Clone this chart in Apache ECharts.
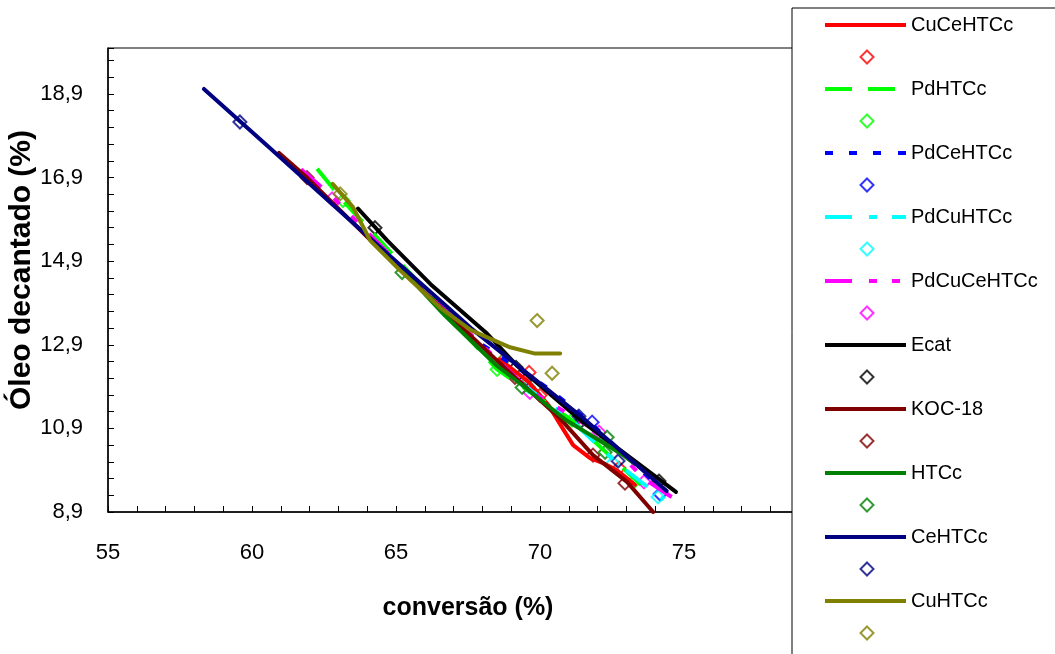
<!DOCTYPE html>
<html><head><meta charset="utf-8">
<script src="https://cdn.jsdelivr.net/npm/echarts@6/dist/echarts.min.js"></script>
<style>html,body{margin:0;padding:0;background:#fff}#chart{width:1055px;height:654px}</style>
</head><body><div id="chart"></div>
<script>
// ---------- data ----------
const seriesNames = ['CuCeHTCc','PdHTCc','PdCeHTCc','PdCuHTCc','PdCuCeHTCc','Ecat','KOC-18','HTCc','CeHTCc','CuHTCc'];
const xTickValues = [55, 60, 65, 70, 75, 80];
const yTickValues = [8.9, 10.9, 12.9, 14.9, 16.9, 18.9];

// lines (conversão %, óleo decantado %)
const lineCuCeHTCc   = [[68.6,12.55],[69.62,12.0],[70.3,11.45],[70.76,10.93],[71.15,10.5],[71.74,10.19],[72.19,10.07],[72.67,9.9],[73.0,9.72],[73.3,9.55]];
const linePdHTCc     = [[62.26,17.11],[63.16,16.35],[65.5,14.6],[68.51,12.31],[71.1,11.1],[73.5,9.55]];
const linePdCeHTCc   = [[68.0,12.9],[70.28,11.86],[70.97,11.48],[71.8,11.0],[72.95,10.26],[74.3,9.4]];
const linePdCuHTCc   = [[69.3,12.0],[71.0,11.15],[72.0,10.5],[72.7,10.05],[74.3,9.2]];
const linePdCuCeHTCc = [[61.7,17.1],[62.78,16.45],[66.0,14.2],[69.65,11.8],[72.05,10.8],[73.61,9.7],[74.7,9.2]];
const lineEcat       = [[63.68,16.16],[64.7,15.39],[66.2,14.35],[68.16,13.17],[69.2,12.4],[71.4,11.1],[74.72,9.38]];
const lineKOC18      = [[60.94,17.49],[61.91,16.9],[65.0,14.8],[69.13,12.12],[70.69,11.14],[71.84,10.26],[73.02,9.62],[73.93,8.9]];
const lineHTCc       = [[64.8,15.0],[66.7,13.6],[68.5,12.4],[69.3,11.98],[70.9,11.1],[72.8,10.3],[73.3,10.05]];
const lineCeHTCc     = [[58.33,19.02],[60.6,17.62],[64.1,15.45],[67.6,13.3],[71.4,11.2],[74.4,9.4]];
const lineCuHTCc     = [[62.8,16.75],[63.5,16.2],[64.1,15.4],[65.14,14.68],[66.53,13.79],[67.6,13.25],[68.96,12.84],[69.83,12.69],[70.7,12.69]];

// measured points
const ptsCuCeHTCc   = [[69.62,12.24],[70.0,11.69],[72.74,9.95]];
const ptsPdHTCc     = [[63.16,16.35],[68.51,12.31],[71.11,11.1],[73.26,9.62]];
const ptsPdCeHTCc   = [[68.85,12.29],[71.81,11.05],[74.17,9.33]];
const ptsPdCuHTCc   = [[69.6,11.9],[72.53,10.07],[74.1,9.26]];
const ptsPdCuCeHTCc = [[62.78,16.39],[69.65,11.76],[72.05,10.81],[73.61,9.62]];
const ptsEcat       = [[64.27,15.7],[69.17,12.36],[71.42,11.07],[74.13,9.64]];
const ptsKOC18      = [[61.91,16.9],[69.13,12.12],[71.84,10.26],[72.95,9.59]];
const ptsHTCc       = [[65.21,14.63],[69.38,11.88],[72.33,10.69],[72.26,10.33]];
const ptsCeHTCc     = [[59.58,18.23],[69.48,12.05],[71.35,11.19],[72.71,10.12]];
const ptsCuHTCc     = [[63.06,16.51],[68.72,12.53],[69.9,13.48],[70.42,12.22]];

const allLines = [lineCuCeHTCc,linePdHTCc,linePdCeHTCc,linePdCuHTCc,linePdCuCeHTCc,lineEcat,lineKOC18,lineHTCc,lineCeHTCc,lineCuHTCc];
const allPts   = [ptsCuCeHTCc,ptsPdHTCc,ptsPdCeHTCc,ptsPdCuHTCc,ptsPdCuCeHTCc,ptsEcat,ptsKOC18,ptsHTCc,ptsCeHTCc,ptsCuHTCc];

// ---------- styles ----------
const colors = ['#FF0000','#00FF00','#0000FF','#00FFFF','#FF00FF','#000000','#800000','#008000','#000080','#808000'];
const dashes = ['solid',[27,16],[8,15],[27,17,8,17],[27,17,8,17,8,17],'solid','solid','solid','solid','solid'];
// legend line icons: dash segments [start,end] across an 81px-wide icon
const legendSegs = [
  [[0,81]], [[0,27],[43,70]], [[0,8],[24,32],[48,56],[73,81]], [[0,27],[44,52],[67,81]],
  [[0,27],[44,52],[67,75]], [[0,81]], [[0,81]], [[0,81]], [[0,81]], [[0,81]]
];
function segPath(segs) {
  // zero-width guides at x=0 and x=81 keep the icon's bounding box at the full 81px
  let p = 'path://M0,0L0,4M81,0L81,4';
  segs.forEach(s => { p += 'M' + s[0] + ',0L' + s[1] + ',0L' + s[1] + ',4L' + s[0] + ',4Z'; });
  return p;
}
const FONT = '"Liberation Sans",Arial,sans-serif';

const series = [];
const legendLines = [];
const legendPts = [];
seriesNames.forEach((name, i) => {
  const solid = dashes[i] === 'solid';
  series.push({
    name: name, type: 'line', data: allLines[i], symbol: 'none', smooth: false,
    animation: false, silent: true,
    lineStyle: { color: colors[i], width: 4, type: dashes[i], cap: solid ? 'round' : 'butt', join: 'round' }
  });
  series.push({
    name: name + ' pts', type: 'scatter', data: allPts[i], symbol: 'diamond', symbolSize: 13,
    animation: false, silent: true,
    itemStyle: { color: 'rgba(0,0,0,0)', borderColor: colors[i], borderWidth: 2 }
  });
  legendLines.push({ name: name, icon: segPath(legendSegs[i]),
    itemStyle: { color: colors[i], borderWidth: 0, opacity: 1 } });
  legendPts.push({ name: name + ' pts', icon: 'diamond',
    itemStyle: { color: 'rgba(0,0,0,0)', borderColor: colors[i], borderWidth: 2 } });
});

const chart = echarts.init(document.getElementById('chart'), null, { renderer: 'canvas' });
chart.setOption({
  backgroundColor: '#fff',
  animation: false,
  grid: { left: 108, top: 48, right: 227, bottom: 142, containLabel: false, outerBoundsMode: 'none',
    show: true, borderColor: '#000', borderWidth: 1, backgroundColor: '#fff' },
  xAxis: {
    type: 'value', min: xTickValues[0], max: xTickValues[xTickValues.length - 1], interval: 5,
    axisLine: { onZero: false, lineStyle: { color: '#000', width: 1.5 } },
    axisTick: { inside: true, length: 6, lineStyle: { color: '#000', width: 1 } },
    minorTick: { show: true, splitNumber: 5, length: 6, lineStyle: { color: '#000', width: 1 } },
    splitLine: { show: false },
    axisLabel: { color: '#000', fontSize: 22, fontFamily: FONT, margin: 30 },
    name: 'conversão (%)', nameLocation: 'middle', nameGap: 84, nameMoveOverlap: false,
    nameTextStyle: { color: '#000', fontSize: 25, fontWeight: 'bold', fontFamily: FONT }
  },
  yAxis: {
    type: 'value', min: yTickValues[0], max: 20, interval: 2,
    axisLine: { onZero: false, lineStyle: { color: '#000', width: 1.5 } },
    axisTick: { inside: true, length: 6, lineStyle: { color: '#000', width: 1 } },
    minorTick: { show: true, splitNumber: 5, length: 6, lineStyle: { color: '#000', width: 1 } },
    splitLine: { show: false },
    axisLabel: { color: '#000', fontSize: 22, fontFamily: FONT, margin: 25, showMaxLabel: false,
      formatter: v => v.toFixed(1).replace('.', ',') },
    name: 'Óleo decantado (%)', nameLocation: 'middle', nameGap: 71, nameRotate: 90, nameMoveOverlap: false,
    nameTextStyle: { color: '#000', fontSize: 30, fontWeight: 'bold', fontFamily: FONT, padding: [0, 0, 0, 20] }
  },
  graphic: { elements: [
    { type: 'rect', z: 3, silent: true, shape: { x: 792, y: 8, width: 300, height: 700 },
      style: { fill: '#fff', stroke: '#000', lineWidth: 1 } }
  ] },
  legend: [{
    orient: 'vertical', left: 825, top: 13, height: 640, padding: 0, z: 10,
    itemWidth: 81, itemHeight: 4, itemGap: 40, selectedMode: false,
    data: legendLines,
    textStyle: { color: '#000', fontSize: 20, lineHeight: 24, fontFamily: FONT }
  }, {
    orient: 'vertical', left: 859.5, top: 49.5, height: 640, padding: 0, z: 10,
    itemWidth: 13, itemHeight: 13, itemGap: 49, selectedMode: false,
    data: legendPts,
    formatter: () => ' ',
    textStyle: { color: '#000', fontSize: 12, lineHeight: 13, fontFamily: FONT }
  }],
  series: series
});
</script>
</body></html>
